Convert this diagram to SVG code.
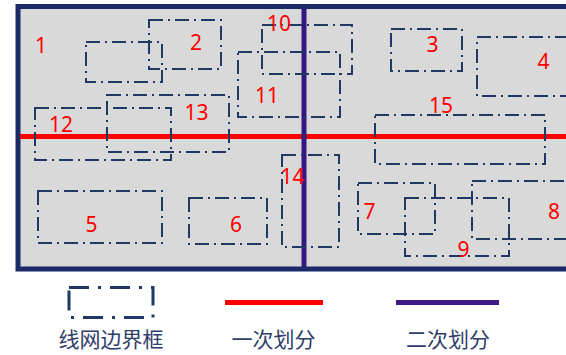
<svg xmlns="http://www.w3.org/2000/svg" width="566" height="355" viewBox="0 0 566 355">
<style>
.frame{fill:#d9d9d9;stroke:#1b2a66;stroke-width:5}
.box{fill:none;stroke:#1f3864;stroke-width:2;stroke-dasharray:14 5 2 5}
.lbl{font-family:"Noto Sans","Liberation Sans",sans-serif;font-size:21px;fill:#ff0000;text-anchor:middle}
.leg{font-family:"Noto Sans CJK SC","Noto Sans",sans-serif;font-size:21px;fill:#2f3d6b;text-anchor:middle}
.red{stroke:#ff0000;stroke-width:5}
.purple{stroke:#33187f;stroke-width:5}
</style>
<g id="frame">
<rect class="frame" x="18" y="6.5" width="575" height="262.5"/>
</g>
<g id="connectors">
<line class="red" x1="20" y1="136.5" x2="566" y2="136.5"/>
<line class="purple" x1="304" y1="9" x2="304" y2="267"/>
</g>
<g id="box-a"><rect class="box" x="86" y="42" width="76" height="40"/></g>
<g id="node-1"><text class="lbl" x="41" y="53">1</text></g>
<g id="node-2"><rect class="box" x="149" y="20" width="72" height="49"/><text class="lbl" x="196" y="50">2</text></g>
<g id="node-3"><rect class="box" x="391" y="29" width="71" height="42"/><text class="lbl" x="432.5" y="52">3</text></g>
<g id="node-4"><rect class="box" x="477" y="37" width="110" height="59"/><text class="lbl" x="543.5" y="69">4</text></g>
<g id="node-5"><rect class="box" x="38" y="191" width="124" height="52"/><text class="lbl" x="91.5" y="232">5</text></g>
<g id="node-6"><rect class="box" x="189" y="198" width="78" height="46"/><text class="lbl" x="236" y="232">6</text></g>
<g id="node-7"><rect class="box" x="358" y="183" width="77" height="51"/><text class="lbl" x="369.5" y="219">7</text></g>
<g id="node-8"><rect class="box" x="472" y="181" width="110" height="58"/><text class="lbl" x="554" y="219">8</text></g>
<g id="node-9"><rect class="box" x="405" y="198" width="104" height="58"/><text class="lbl" x="463.5" y="257">9</text></g>
<g id="node-10"><rect class="box" x="262" y="25" width="90" height="49"/><text class="lbl" x="279" y="31">10</text></g>
<g id="node-11"><rect class="box" x="238" y="52" width="102" height="65"/><text class="lbl" x="267" y="103">11</text></g>
<g id="node-12"><rect class="box" x="35" y="108" width="136" height="52"/><text class="lbl" x="61" y="132">12</text></g>
<g id="node-13"><rect class="box" x="107" y="95" width="122" height="57"/><text class="lbl" x="196.5" y="120">13</text></g>
<g id="node-14"><rect class="box" x="282" y="155" width="57" height="92"/><text class="lbl" x="292.5" y="184">14</text></g>
<g id="node-15"><rect class="box" x="375" y="115" width="170" height="49"/><text class="lbl" x="441" y="113">15</text></g>
<g id="legend">
<rect x="69" y="287.5" width="84" height="30" fill="none" stroke="#1f3864" stroke-width="3" stroke-dasharray="20 9 3 9"/>
<text class="leg" x="111" y="347">线网边界框</text>
<line class="red" x1="225" y1="302.5" x2="323" y2="302.5"/>
<text class="leg" x="273.5" y="347">一次划分</text>
<line x1="396" y1="302.5" x2="499" y2="302.5" stroke="#3c1c87" stroke-width="5"/>
<text class="leg" x="448" y="347">二次划分</text>
</g>
</svg>
